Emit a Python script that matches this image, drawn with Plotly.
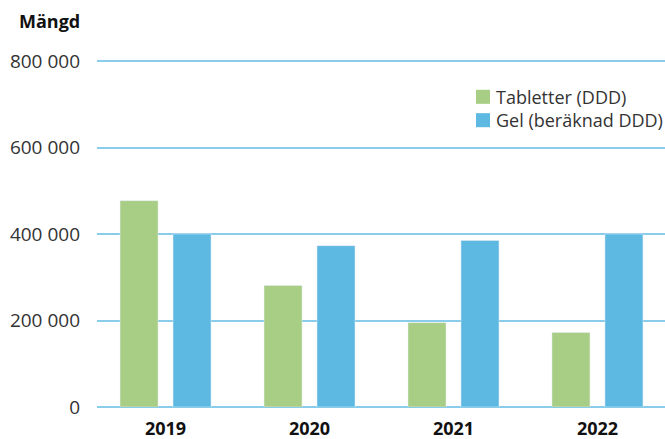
import plotly.graph_objects as go

years = ["2019", "2020", "2021", "2022"]
tabletter = [477000, 281000, 195000, 172000]
gel = [400000, 373000, 385000, 400000]
y_ticks = [0, 200000, 400000, 600000, 800000]
y_tick_labels = ["0", "200 000", "400 000", "600 000", "800 000"]
series_names = ["Tabletter (DDD)", "Gel (beräknad DDD)"]

GREEN = "#A8CD84"
BLUE = "#5DB9E1"
GRID = "#8ACDEA"
FONT = "Open Sans"

fig = go.Figure()
fig.add_trace(go.Bar(x=years, y=tabletter, name=series_names[0], marker_color=GREEN))
fig.add_trace(go.Bar(x=years, y=gel, name=series_names[1], marker_color=BLUE))

# hand-placed legend (swatches + two-line label) to match the reference spacing
legend_mid = 0.8553
row_offset = 0.0335
shapes = []
for i, col in enumerate([GREEN, BLUE]):
    yc = legend_mid + row_offset * (1 - 2 * i)
    shapes.append(dict(type="rect", xref="paper", yref="paper",
                       x0=0.6673, x1=0.6919, y0=yc - 0.0201, y1=yc + 0.0201,
                       fillcolor=col, line=dict(width=0)))
annotations = [
    dict(text="<br>".join(series_names), xref="paper", yref="paper", x=0.6990, y=legend_mid,
         xanchor="left", yanchor="middle", align="left", showarrow=False,
         font=dict(family=FONT, size=18, color="#333333")),
    dict(text="<b>Mängd</b>", xref="paper", yref="paper",
         x=-0.0264, y=1.106, xanchor="right", yanchor="middle",
         showarrow=False, font=dict(family=FONT, size=18, color="#111111")),
]

fig.update_layout(
    width=665, height=439,
    margin=dict(l=97, r=0, t=58, b=32),
    paper_bgcolor="white", plot_bgcolor="white",
    barmode="group", bargap=0.264, bargroupgap=0.283,
    showlegend=False,
    font=dict(family=FONT, size=18, color="#333333"),
    xaxis=dict(range=[-0.476, 3.469], showgrid=False, showline=False, ticks="",
               tickfont=dict(family=FONT, size=18, color="#111111", weight="bold"),
               ticklabelstandoff=9),
    yaxis=dict(range=[0, 806936], tickvals=y_ticks, ticktext=y_tick_labels,
               showgrid=True, gridcolor=GRID, gridwidth=1.5,
               zeroline=True, zerolinecolor=GRID, zerolinewidth=1.5,
               showline=False, ticks="", ticklabelstandoff=16,
               tickfont=dict(family=FONT, size=19, color="#333333")),
    shapes=shapes,
    annotations=annotations,
)

fig.write_html("out.html", config={"displayModeBar": False},
               post_script="document.body.style.margin='0';document.body.style.overflow='hidden';")
